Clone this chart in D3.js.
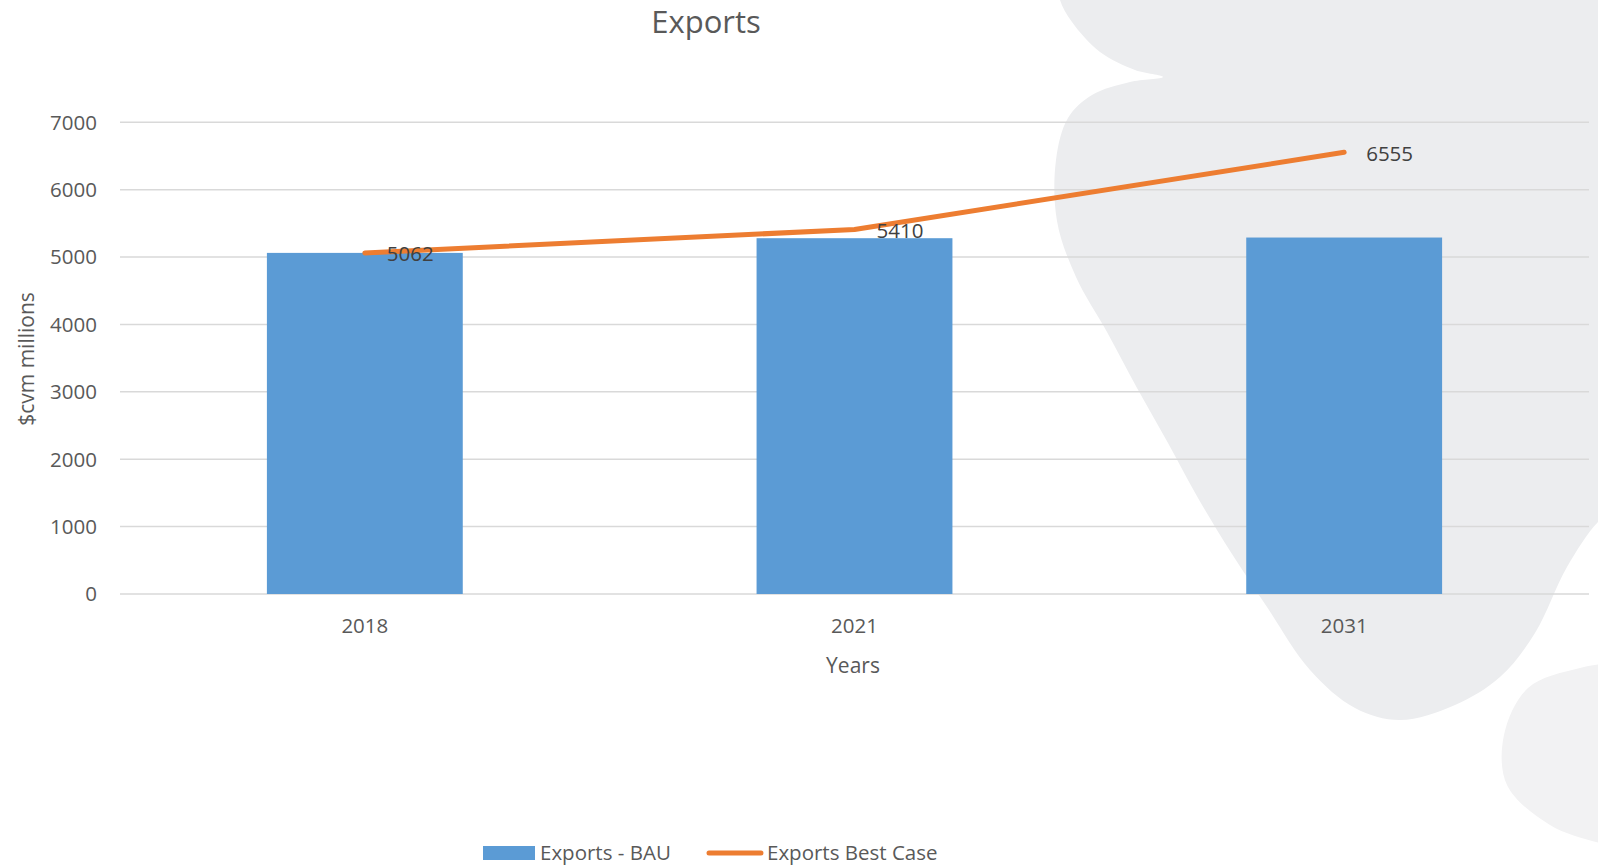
<!DOCTYPE html>
<html>
<head>
<meta charset="utf-8">
<script src="https://cdn.jsdelivr.net/npm/d3@7"></script>
<style>
  html, body { margin: 0; padding: 0; background: #fff; }
  svg { display: block; font-family: "Open Sans", sans-serif; }
</style>
</head>
<body>
<svg id="chart" width="1598" height="868"></svg>
<script>
// Chart data
const years = ['2018', '2021', '2031'];
const bauValues = [5062, 5280, 5290];
const bestCaseValues = [5062, 5410, 6555];
const yTicks = [0, 1000, 2000, 3000, 4000, 5000, 6000, 7000];

const BAR_COLOR = '#5B9BD5';
const LINE_COLOR = '#ED7D31';
const GRID_COLOR = '#D9D9D9';
const TEXT_COLOR = '#595959';

const svg = d3.select('#chart');

// Decorative grey shapes behind the chart (slide artwork)
const edgeLine = d3.line().curve(d3.curveCatmullRom.alpha(0.5));
const mainBlob = [
  [1058, -20], [1060, 0], [1072, 22], [1100, 52], [1135, 70], [1163, 77],
  [1130, 82], [1092, 95], [1068, 118], [1056, 160], [1057, 221], [1076, 277],
  [1107, 332], [1137, 388], [1168, 443], [1198, 498], [1232, 554], [1267, 607],
  [1310, 670], [1355, 708], [1400, 720], [1455, 705], [1500, 677], [1535, 633],
  [1567, 567], [1600, 520], [1630, 500]
];
svg.append('path')
  .attr('d', edgeLine(mainBlob) + 'L1630,-20Z')
  .attr('fill', '#ECEDEF');

const sideBlob = [
  [1640, 660], [1580, 668], [1528, 688], [1504, 735], [1507, 785],
  [1550, 825], [1600, 843], [1640, 850]
];
svg.append('path')
  .attr('d', edgeLine(sideBlob) + 'Z')
  .attr('fill', '#F2F2F3');

const x = d3.scaleBand()
  .domain(years)
  .range([120, 1589])
  .paddingInner(0.6)
  .paddingOuter(0.3);

const y = d3.scaleLinear()
  .domain([0, 7000])
  .range([594, 122.3]);

// Gridlines
svg.append('g')
  .selectAll('line')
  .data(yTicks)
  .enter()
  .append('line')
  .attr('x1', 120).attr('x2', 1589)
  .attr('y1', d => y(d)).attr('y2', d => y(d))
  .attr('stroke', GRID_COLOR)
  .attr('stroke-width', 1.5);

// Y axis labels
svg.append('g')
  .selectAll('text')
  .data(yTicks)
  .enter()
  .append('text')
  .attr('x', 97)
  .attr('y', d => y(d))
  .attr('dy', '0.36em')
  .attr('text-anchor', 'end')
  .attr('font-size', '20.5px')
  .attr('fill', TEXT_COLOR)
  .text(d => d);

// Bars
svg.append('g')
  .selectAll('rect')
  .data(years.map((yr, i) => ({ yr, v: bauValues[i] })))
  .enter()
  .append('rect')
  .attr('x', d => x(d.yr))
  .attr('width', x.bandwidth())
  .attr('y', d => y(d.v))
  .attr('height', d => y(0) - y(d.v))
  .attr('fill', BAR_COLOR);

// Best case line
const pts = years.map((yr, i) => ({ yr, v: bestCaseValues[i] }));
svg.append('path')
  .datum(pts)
  .attr('d', d3.line().x(d => x(d.yr) + x.bandwidth() / 2).y(d => y(d.v)))
  .attr('fill', 'none')
  .attr('stroke', LINE_COLOR)
  .attr('stroke-width', 5)
  .attr('stroke-linecap', 'round')
  .attr('stroke-linejoin', 'round');

// Data labels
svg.append('g')
  .selectAll('text')
  .data(pts)
  .enter()
  .append('text')
  .attr('x', d => x(d.yr) + x.bandwidth() / 2 + 22)
  .attr('y', d => y(d.v) + 1)
  .attr('dy', '0.36em')
  .attr('font-size', '20.5px')
  .attr('fill', '#404040')
  .text(d => d.v);

// Category labels
svg.append('g')
  .selectAll('text')
  .data(years)
  .enter()
  .append('text')
  .attr('x', d => x(d) + x.bandwidth() / 2)
  .attr('y', 626)
  .attr('dy', '0.36em')
  .attr('text-anchor', 'middle')
  .attr('font-size', '20.5px')
  .attr('fill', TEXT_COLOR)
  .text(d => d);

// Axis titles
svg.append('text')
  .attr('x', 853).attr('y', 665)
  .attr('dy', '0.36em')
  .attr('text-anchor', 'middle')
  .attr('font-size', '21px')
  .attr('fill', TEXT_COLOR)
  .text('Years');

svg.append('text')
  .attr('transform', 'translate(26,359) rotate(-90)')
  .attr('dy', '0.36em')
  .attr('text-anchor', 'middle')
  .attr('font-size', '21px')
  .attr('fill', TEXT_COLOR)
  .text('$cvm millions');

// Title
svg.append('text')
  .attr('x', 706).attr('y', 33)
  .attr('text-anchor', 'middle')
  .attr('font-size', '31px')
  .attr('fill', TEXT_COLOR)
  .text('Exports');

// Legend
const legend = svg.append('g');
legend.append('rect')
  .attr('x', 483).attr('y', 846)
  .attr('width', 52).attr('height', 14)
  .attr('fill', BAR_COLOR);
legend.append('text')
  .attr('x', 540).attr('y', 860)
  .attr('font-size', '20.5px')
  .attr('fill', TEXT_COLOR)
  .text('Exports - BAU');
legend.append('line')
  .attr('x1', 709).attr('x2', 761)
  .attr('y1', 853).attr('y2', 853)
  .attr('stroke', LINE_COLOR)
  .attr('stroke-width', 5)
  .attr('stroke-linecap', 'round');
legend.append('text')
  .attr('x', 767).attr('y', 860)
  .attr('font-size', '20.5px')
  .attr('fill', TEXT_COLOR)
  .text('Exports Best Case');
</script>
</body>
</html>
